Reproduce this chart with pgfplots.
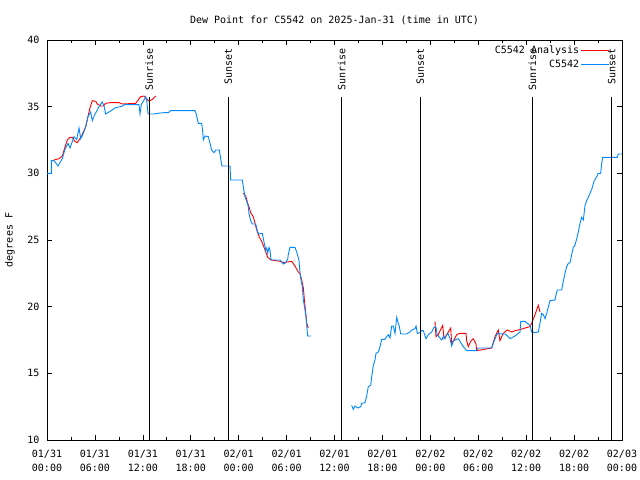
\documentclass[border=0pt]{standalone}
\usepackage{pgfplots}
\pgfplotsset{compat=1.18}
\usepackage{fontspec}
\setmainfont{DejaVu Sans Mono}
\definecolor{obsblue}{RGB}{0,136,255}
\definecolor{anred}{RGB}{255,0,0}
\begin{document}
\begin{tikzpicture}[font=\fontsize{10bp}{11bp}\selectfont]
\path[use as bounding box] (-47bp,-40bp) rectangle (593bp,440bp);
\begin{axis}[
 at={(0,0)}, anchor=south west,
 scale only axis, width=575bp, height=400bp,
 xmin=0, xmax=72, ymin=10, ymax=40,
 xtick={0,6,...,72},
 xticklabels={{01/31\\00:00},{01/31\\06:00},{01/31\\12:00},{01/31\\18:00},{02/01\\00:00},{02/01\\06:00},{02/01\\12:00},{02/01\\18:00},{02/02\\00:00},{02/02\\06:00},{02/02\\12:00},{02/02\\18:00},{02/03\\00:00}},
 minor x tick num=1,
 ytick={10,15,...,40},
 tick align=inside,
 major tick length=5bp, minor tick length=3bp,
 tick style={black, line width=0.6bp},
 axis line style={line width=0.8bp},
 xticklabel style={align=center, font=\fontsize{10bp}{14bp}\selectfont, yshift=-6.5bp},
 yticklabel style={xshift=-4bp},
 /pgf/number format/assume math mode=true,
 ylabel={degrees F},
 every axis y label/.style={at={(axis description cs:0,0.5)}, xshift=-37bp, rotate=90, anchor=center},
 title={Dew Point for C5542 on 2025-Jan-31 (time in UTC)},
 every axis title/.style={at={(axis description cs:0.5,1)}, yshift=20bp, anchor=center},
 legend style={draw=none, fill=none, at={(1,1)}, anchor=north east, xshift=-12bp, yshift=-4.5bp, inner sep=0pt, row sep=1.5bp, nodes={inner sep=1.5bp}, /tikz/every even column/.append style={column sep=8bp}},
 legend cell align=right,
 legend plot pos=right,
 legend image code/.code={\draw[#1, line width=1.1bp] (0bp,0bp) -- (28bp,0bp);},
 unbounded coords=jump,
]
\addplot[draw=anred, color=anred, line width=0.9bp] coordinates {
(0.88,31.0) (1.50,31.1) (1.92,31.3) (2.22,31.9) (2.54,32.5) (2.88,32.7) (3.17,32.7) (3.47,32.4) (3.79,32.3) (4.01,32.5) (4.30,32.75) (4.55,33.1) (4.85,33.5) (5.13,34.25) (5.38,34.9) (5.67,35.45) (6.10,35.4) (6.30,35.2) (6.72,35.05) (7.05,35.05) (7.35,35.25) (7.97,35.3) (8.39,35.3) (9.02,35.3) (9.43,35.2) (11.11,35.25) (11.73,35.75) (12.15,35.8) (12.48,35.6) (12.77,35.4) (13.19,35.55) (13.61,35.8)
(14,nan)
(24.58,28.5) (24.88,28.3) (25.13,27.75) (25.29,27.5) (25.54,27.0) (25.83,26.75) (26.05,26.25) (26.26,25.75) (26.55,25.25) (26.88,24.9) (27.21,24.4) (27.51,23.9) (27.64,23.7) (28.05,23.5) (29.18,23.4) (29.59,23.3) (30.64,23.4) (31.05,23.05) (31.47,22.6) (31.68,22.5) (31.89,22.0) (32.10,21.4) (32.23,20.5) (32.40,19.5) (32.52,18.75) (32.72,18.4)
(40,nan)
(48.58,18.9) (48.71,17.75) (49.0,17.9) (49.30,18.3) (49.55,18.6) (49.71,17.6) (50.05,17.9) (50.25,18.1) (50.55,18.4) (50.67,17.25) (50.96,17.5) (51.30,17.9) (51.71,18.0) (52.47,18.0) (52.55,17.45) (52.75,17.0) (53.05,17.4) (53.38,17.6) (53.72,17.2) (53.80,16.7) (55.68,16.9) (56.10,17.75) (56.51,18.25) (56.72,17.45) (57.13,18.0) (57.64,18.25) (58.19,18.1) (58.60,18.2) (59.02,18.25) (59.86,18.4) (60.48,18.5) (60.69,18.75) (61.11,19.4) (61.52,20.1) (61.73,19.6)
};
\addlegendentry{C5542 Analysis}
\addplot[obsblue, line width=0.9bp] coordinates {
(0,30.0) (0.54,30.0) (0.54,30.95) (0.88,30.95) (1.38,30.55) (1.92,31.1) (2.22,31.75) (2.63,32.25) (2.88,31.9) (3.38,32.75) (3.72,32.55) (4.01,33.4) (4.22,32.6) (4.55,33.0) (4.85,33.5) (5.13,34.25) (5.47,34.6) (5.67,33.95) (5.97,34.4) (6.30,34.75) (6.51,35.0) (6.92,35.35) (7.14,35.05) (7.35,34.45) (7.76,34.6) (8.18,34.75) (8.48,34.9) (8.80,34.95) (9.48,35.05) (9.64,35.15) (11.52,35.15) (11.65,34.45) (11.81,35.15) (12.15,35.5) (12.36,35.75) (12.48,35.5) (12.65,34.45) (13.40,34.45) (13.81,34.5) (14.65,34.55) (15.19,34.55) (15.49,34.7) (18.53,34.7) (18.66,34.5) (18.95,33.75) (19.37,33.75) (19.50,33.1) (19.57,32.5) (19.78,32.8) (20.20,32.75) (20.41,32.25) (20.62,31.75) (20.91,31.55) (21.16,31.75) (21.58,31.75) (21.75,31.1) (21.91,30.55) (22.92,30.55) (23.00,29.5) (24.46,29.5) (24.58,29.0) (24.79,28.25) (25.01,27.9) (25.21,27.5) (25.29,27.0) (25.54,26.4) (25.71,26.2) (26.13,26.2) (26.38,25.6) (26.55,25.45) (26.96,25.5) (27.21,24.75) (27.39,24.25) (27.51,24.4) (27.64,24.0) (27.80,24.45) (27.92,24.25) (28.05,23.5) (29.18,23.5) (29.59,23.2) (29.80,23.25) (30.14,23.55) (30.21,23.9) (30.43,24.45) (31.05,24.45) (31.27,24.1) (31.55,23.5) (31.68,22.5) (31.81,22.0) (31.97,21.5) (32.10,20.5) (32.31,19.75) (32.43,19.25) (32.52,18.6) (32.64,17.8) (33.06,17.8)
(33.5,nan)
(38.15,12.6) (38.35,12.3) (38.57,12.55) (38.78,12.45) (38.98,12.4) (39.28,12.5) (39.41,12.75) (39.82,12.8) (40.03,13.3) (40.23,14.0) (40.53,14.1) (40.66,14.75) (40.86,15.6) (41.07,16.0) (41.20,16.5) (41.49,16.6) (41.70,17.0) (41.91,17.55) (42.32,17.55) (42.54,17.75) (42.74,17.9) (42.95,17.65) (43.16,18.55) (43.36,18.55) (43.58,18.0) (43.79,19.2) (43.99,18.75) (44.11,18.55) (44.29,17.95) (45.04,17.95) (45.45,18.1) (45.67,18.25) (46.08,18.35) (46.21,18.55) (46.37,18.0) (46.71,18.05) (46.92,18.2) (47.12,18.2) (47.46,17.6) (47.75,17.9) (48.17,18.1) (48.46,18.45) (48.71,18.45) (48.87,17.9) (49.42,17.5) (49.62,17.75) (49.84,17.6) (50.05,17.9) (50.25,17.95) (50.46,17.6) (50.67,17.05) (50.88,17.4) (51.09,17.5) (51.50,17.6) (51.71,17.4) (52.13,17.0) (52.55,16.7) (53.80,16.7) (54.00,16.9) (55.68,16.9) (55.88,17.25) (56.31,17.9) (56.51,18.0) (56.93,17.95) (57.35,17.95) (57.76,17.75) (57.98,17.6) (58.60,17.8) (59.02,18.0) (59.23,18.1) (59.32,18.9) (59.86,18.9) (60.14,18.75) (60.48,18.6) (60.69,18.1) (61.11,18.05) (61.52,18.1) (61.73,18.75) (61.94,19.5) (62.15,19.4) (62.36,19.1) (62.57,19.5) (62.78,20.0) (62.99,20.45) (63.61,20.5) (63.74,20.9) (63.90,21.25) (64.45,21.25) (64.65,21.9) (64.86,22.5) (65.07,23.0) (65.28,23.25) (65.49,23.3) (65.70,23.9) (65.90,24.45) (66.11,24.6) (66.33,25.1) (66.53,25.6) (66.74,26.25) (66.95,26.7) (67.16,26.5) (67.37,27.6) (67.58,27.95) (68.00,28.5) (68.21,28.8) (68.49,29.4) (68.83,29.75) (69.03,30.0) (69.33,30.0) (69.46,30.75) (69.58,31.2) (71.41,31.2) (71.53,31.45) (72.0,31.45)
};
\addlegendentry{C5542}
% sunrise / sunset markers
\addplot[black, line width=0.8bp, forget plot] coordinates {(12.78,10) (12.78,35.7)};
\addplot[black, line width=0.8bp, forget plot] coordinates {(22.70,10) (22.70,35.7)};
\addplot[black, line width=0.8bp, forget plot] coordinates {(36.90,10) (36.90,35.7)};
\addplot[black, line width=0.8bp, forget plot] coordinates {(46.75,10) (46.75,35.7)};
\addplot[black, line width=0.8bp, forget plot] coordinates {(60.77,10) (60.77,35.7)};
\addplot[black, line width=0.8bp, forget plot] coordinates {(70.71,10) (70.71,35.7)};
\node[rotate=90, anchor=east, inner sep=0pt] at (axis cs:12.78,39.4) {Sunrise};
\node[rotate=90, anchor=east, inner sep=0pt] at (axis cs:22.70,39.4) {Sunset};
\node[rotate=90, anchor=east, inner sep=0pt] at (axis cs:36.90,39.4) {Sunrise};
\node[rotate=90, anchor=east, inner sep=0pt] at (axis cs:46.75,39.4) {Sunset};
\node[rotate=90, anchor=east, inner sep=0pt] at (axis cs:60.77,39.4) {Sunrise};
\node[rotate=90, anchor=east, inner sep=0pt] at (axis cs:70.71,39.4) {Sunset};
\end{axis}
\end{tikzpicture}
\end{document}
